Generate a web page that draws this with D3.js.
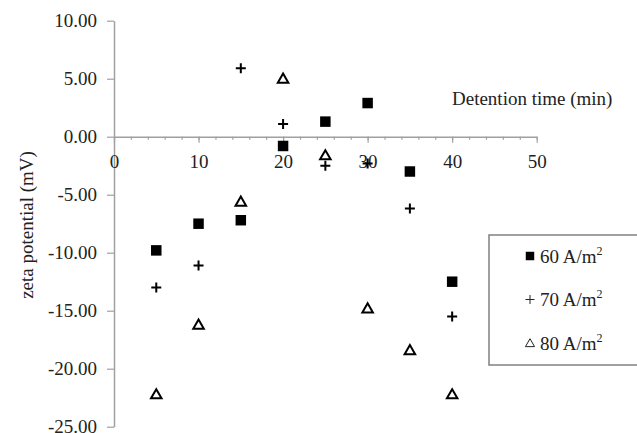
<!DOCTYPE html>
<html lang="en">
<head>
<meta charset="UTF-8">
<title>zeta potential vs detention time</title>
<script src="https://cdn.jsdelivr.net/npm/d3@7"></script>
<style>
  body { margin: 0; background: #fff; }
</style>
</head>
<body>
<div id="chart"></div>
<script>
// data
var times = [5, 10, 15, 20, 25, 30, 35, 40];
var zeta60 = [-9.8, -7.5, -7.2, -0.8, 1.3, 2.9, -3.0, -12.5];
var zeta70 = [-13.0, -11.1, 5.9, 1.1, -2.5, -2.3, -6.2, -15.5];
var zeta80 = [-22.2, -16.2, -5.6, 5.0, -1.6, -14.8, -18.4, -22.2];
var yTicks = [-25, -20, -15, -10, -5, 0, 5, 10];
var xTicks = [0, 10, 20, 30, 40, 50];
var xMinor = d3.range(0, 51, 2);
var legendNames = ["60 A/m", "70 A/m", "80 A/m"];

var W = 637, H = 433;
var serif = "'Liberation Serif', 'Times New Roman', Times, serif";
var svg = d3.select("#chart").append("svg")
  .attr("width", W).attr("height", H)
  .style("font-family", serif);

var x = d3.scaleLinear().domain([0, 50]).range([114, 536.7]);
var y = d3.scaleLinear().domain([-25, 10]).range([426.7, 20.7]);
var axisCol = "#a0a0a0";

// y axis
var gy = svg.append("g")
  .attr("transform", "translate(" + x(0) + ",0)")
  .call(d3.axisLeft(y).tickValues(yTicks).tickSizeInner(7).tickSizeOuter(0).tickPadding(10)
    .tickFormat(function (d) { return d.toFixed(2); }));
gy.attr("font-family", null);
gy.select(".domain").attr("stroke", axisCol).attr("stroke-width", 1.5);
gy.selectAll(".tick line").attr("stroke", axisCol).attr("stroke-width", 1.2);
gy.selectAll(".tick text").attr("font-size", 19).attr("fill", "#222").style("font-family", serif);

// x axis sits at zero
var gxm = svg.append("g")
  .attr("transform", "translate(0," + y(0) + ")")
  .call(d3.axisBottom(x).tickValues(xMinor).tickSizeInner(3).tickSizeOuter(0).tickFormat(""));
gxm.select(".domain").attr("stroke", axisCol).attr("stroke-width", 1.5);
gxm.selectAll(".tick line").attr("stroke", axisCol).attr("stroke-width", 1.2);

var gx = svg.append("g")
  .attr("transform", "translate(0," + y(0) + ")")
  .call(d3.axisBottom(x).tickValues(xTicks).tickSizeInner(6).tickSizeOuter(0).tickPadding(12));
gx.attr("font-family", null);
gx.select(".domain").remove();
gx.selectAll(".tick line").attr("stroke", axisCol).attr("stroke-width", 1.2);
gx.selectAll(".tick text").attr("font-size", 19).attr("fill", "#222").style("font-family", serif);

// axis titles
svg.append("text")
  .attr("transform", "translate(33,225) rotate(-90)")
  .attr("text-anchor", "middle")
  .attr("font-size", 19).attr("fill", "#222")
  .style("font-family", serif)
  .text("zeta potential (mV)");

svg.append("text")
  .attr("x", 452).attr("y", 105)
  .attr("font-size", 19).attr("fill", "#222")
  .style("font-family", serif)
  .text("Detention time (min)");

// markers
var sq = d3.symbol().type(d3.symbolSquare).size(110);
var plus = "M-5,0H5M0,-5V5";
var tri = d3.symbol().type(d3.symbolTriangle).size(48);

svg.append("g").selectAll("path").data(times).enter().append("path")
  .attr("d", sq)
  .attr("transform", function (d, i) { return "translate(" + x(d) + "," + y(zeta60[i]) + ")"; })
  .attr("fill", "#000");

svg.append("g").selectAll("path").data(times).enter().append("path")
  .attr("d", plus)
  .attr("transform", function (d, i) { return "translate(" + x(d) + "," + y(zeta70[i]) + ")"; })
  .attr("stroke", "#000").attr("stroke-width", 2).attr("fill", "none");

svg.append("g").selectAll("path").data(times).enter().append("path")
  .attr("d", tri)
  .attr("transform", function (d, i) { return "translate(" + x(d) + "," + (y(zeta80[i]) + 1) + ")"; })
  .attr("stroke", "#000").attr("stroke-width", 2).attr("fill", "#fff");

// legend
svg.append("rect")
  .attr("x", 489).attr("y", 235).attr("width", 160).attr("height", 130)
  .attr("fill", "#fff").attr("stroke", "#808080").attr("stroke-width", 1.5);

var legY = [256, 299.5, 343];
var leg = svg.append("g").selectAll("g").data(legendNames).enter().append("g")
  .attr("transform", function (d, i) { return "translate(530," + legY[i] + ")"; });
leg.append("path")
  .attr("d", function (d, i) {
    if (i === 0) return d3.symbol().type(d3.symbolSquare).size(72)();
    if (i === 1) return "M-4.5,0H4.5M0,-4.5V4.5";
    return d3.symbol().type(d3.symbolTriangle).size(36)();
  })
  .attr("transform", function (d, i) { return i === 2 ? "translate(0,1)" : null; })
  .attr("fill", function (d, i) { return i === 0 ? "#000" : "none"; })
  .attr("stroke", function (d, i) { return i === 0 ? "none" : "#222"; })
  .attr("stroke-width", 1);
var lt = leg.append("text")
  .attr("x", 10).attr("y", 6.5)
  .attr("font-size", 19).attr("fill", "#222")
  .style("font-family", serif);
lt.append("tspan").text(function (d) { return d; });
lt.append("tspan").attr("dy", -8).attr("font-size", 12).text("2");
</script>
</body>
</html>
